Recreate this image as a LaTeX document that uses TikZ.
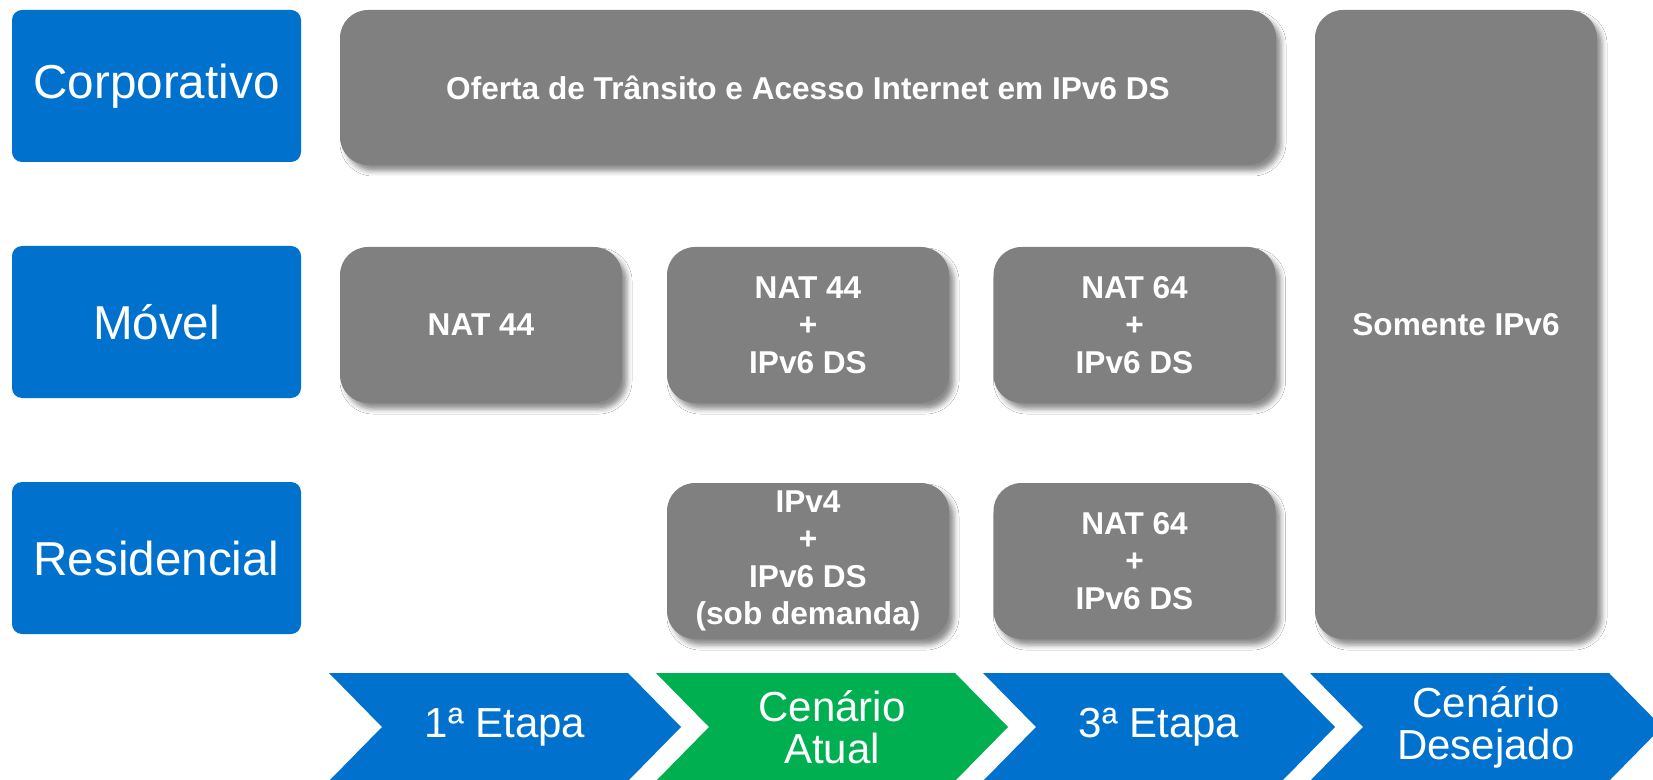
\documentclass[tikz,border=0pt]{standalone}
\usepackage{fontspec}
\setmainfont{Liberation Sans}
\usetikzlibrary{positioning,shadows.blur}
\definecolor{azul}{RGB}{0,114,206}
\definecolor{verde}{RGB}{0,176,80}
\definecolor{cinza}{RGB}{128,128,128}
\tikzset{
	segmento/.style={fill=azul, rounded corners=5pt, text=white, inner sep=0pt,
		minimum width=144.5pt, minimum height=76pt, font=\fontsize{23.8}{28}\selectfont},
	bloco/.style={fill=cinza, rounded corners=14pt, text=white, align=center, inner sep=0pt,
		minimum width=141pt, minimum height=78pt, font=\fontsize{15.8}{18.7}\selectfont\bfseries,
		blur shadow={shadow xshift=2.5pt, shadow yshift=-3pt, shadow blur radius=2.5pt, shadow opacity=45}},
	etapa/.style={text=white, align=center, inner sep=0pt, font=\fontsize{21}{21}\selectfont}
}

\begin{document}
\begin{tikzpicture}[x=0.5pt, y=-0.5pt]
	\path[fill=white, use as bounding box] (0,0) rectangle (1653,780);

	% segmentos
	\node[segmento] (corp) at (156.5, 86) {Corporativo};
	\node[segmento] (movel) at (156.5, 322) {Móvel};
	\node[segmento] (resid) at (156.5, 558) {Residencial};

	% cenarios
	\node[bloco, minimum width=468pt, minimum height=77.5pt] (oferta) at (808, 87.5) {Oferta de Trânsito e Acesso Internet em IPv6 DS};
	\node[bloco] (nat44) at (481, 325) {NAT 44};
	\node[bloco] (nat44ds) at (808, 325) {NAT 44\\+\\IPv6 DS};
	\node[bloco] (nat64m) at (1134.5, 325) {NAT 64\\+\\IPv6 DS};
	\node[bloco] (ipv4ds) at (808, 561) {IPv4\\+\\IPv6 DS\\(sob demanda)};
	\node[bloco] (nat64r) at (1134.5, 561) {NAT 64\\+\\IPv6 DS};
	\node[bloco, minimum height=314.5pt] (somente) at (1456, 324.5) {Somente IPv6};

	% etapas
	\foreach \i/\cor/\txt in {0/azul/{1ª Etapa}, 1/verde/{Cenário\\Atual}, 2/azul/{3ª Etapa}, 3/azul/{Cenário\\Desejado}} {
		\fill[\cor] (329+327*\i, 673) -- ++(299,0) -- ++(53,54) -- ++(-53,54) -- ++(-299,0) -- ++(53,-54) -- cycle;
		\node[etapa] (etapa\i) at (505+327*\i, 727) {\txt};
	}
\end{tikzpicture}
\end{document}
